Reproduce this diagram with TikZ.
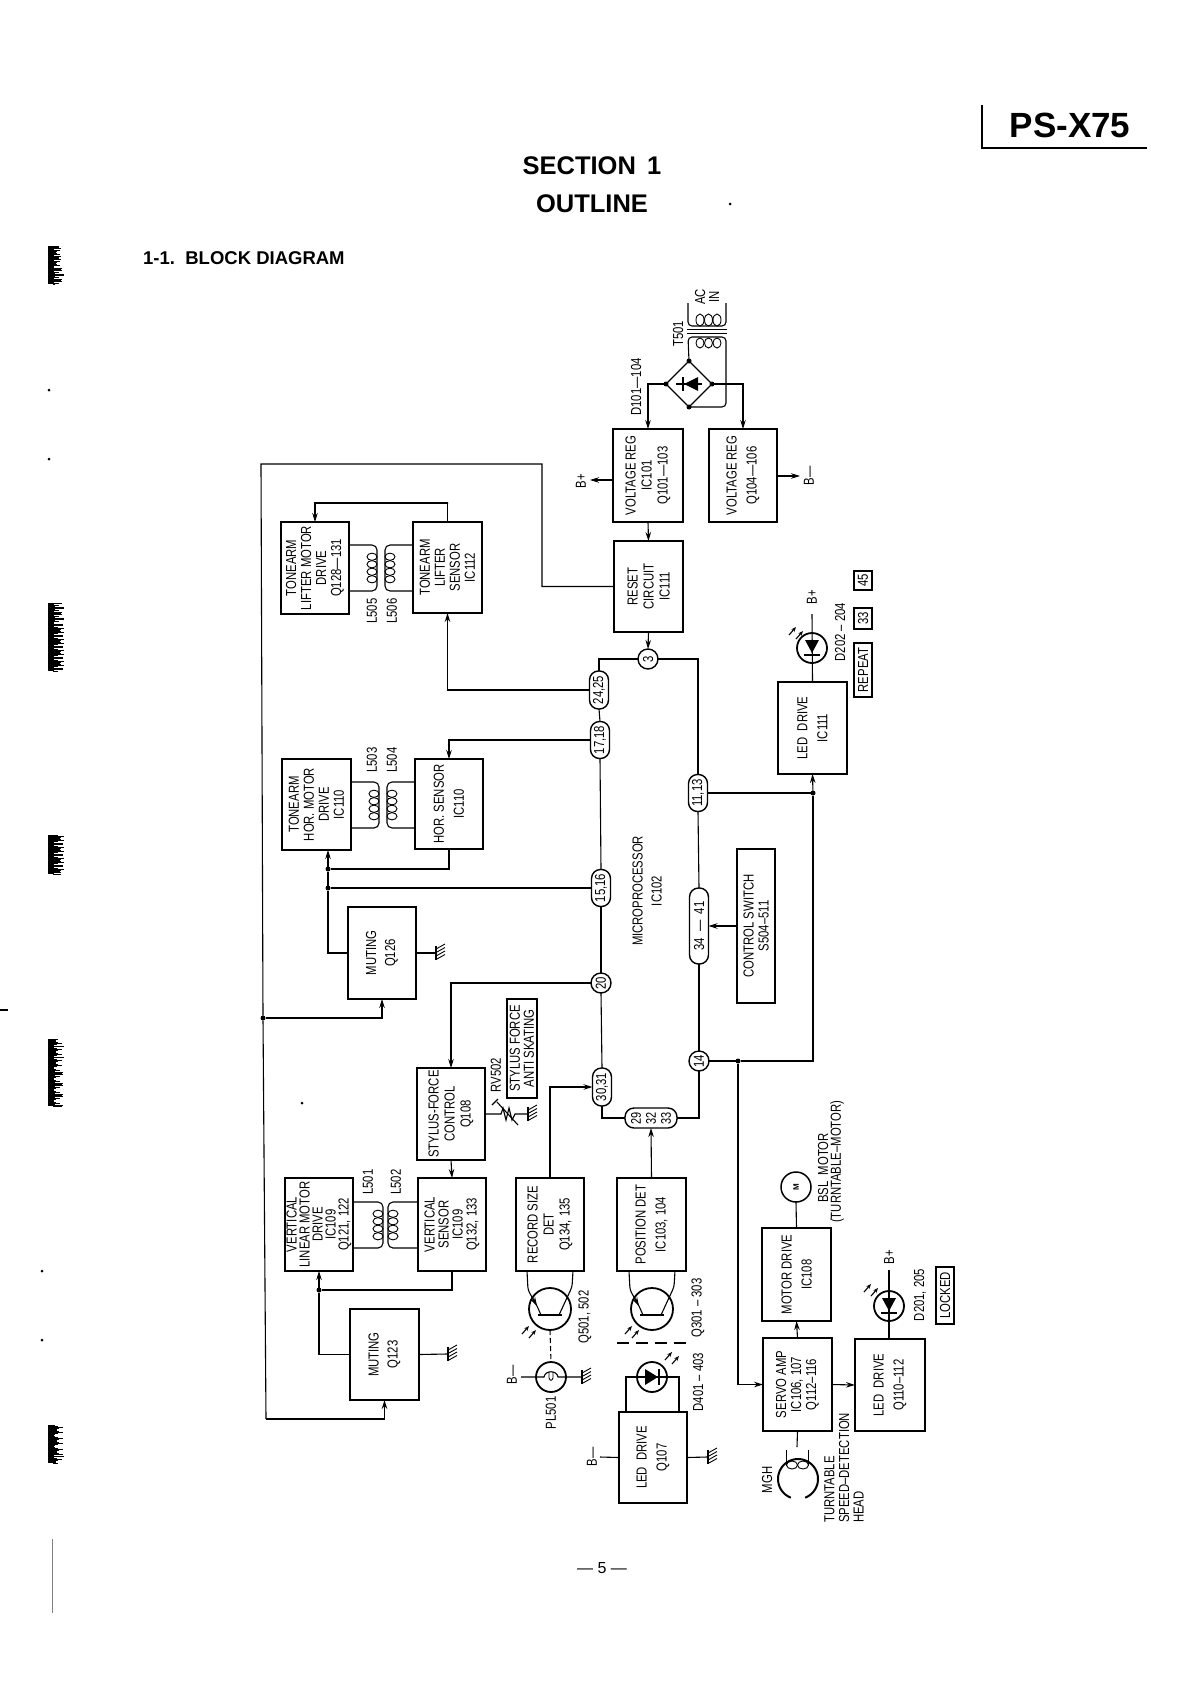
\documentclass[tikz,border=0pt]{standalone}
\usepackage{fontspec}
\usetikzlibrary{arrows.meta,shapes.geometric}
\setmainfont{Liberation Sans}
\newfontfamily\lab[FakeStretch=0.78]{Liberation Sans}
\newcommand{\blkn}[6][]{\node[box,minimum width={(#4-#2)*1pt},minimum height={(#5-#3)*1pt}] (#6) at ({(#2+#4)/2},{(#3+#5)/2}) {};}
\newcommand{\pillv}[4]{\node[pill,minimum height=#3*1pt] (#1) at #2 {};\node[pintxt] at (#1) {#4};}
\newcommand{\coilpair}[6]{%
 \draw[wire,rounded corners=5pt] (#1.east |- 0,#5) -- (#3,#5) -- (#3,#6) -- (#1.east |- 0,#6);
 \draw[wire,rounded corners=5pt] (#2.west |- 0,#5) -- (#4,#5) -- (#4,#6) -- (#2.west |- 0,#6);
 \foreach \k in {0,1,2,3}{
  \draw[thin wire] ({#3-5},{(#5+#6)/2-11.25+\k*7.5}) ellipse[x radius=5pt,y radius=3.6pt];
  \draw[thin wire] ({#4+5},{(#5+#6)/2-11.25+\k*7.5}) ellipse[x radius=5pt,y radius=3.6pt];
 }}
\newcommand{\gnd}[2]{%
 \draw[wire,line width=1.8pt] (#1,#2-7) -- (#1,#2+7);
 \foreach \k in {-5,-1.5,2,5.5}{\draw[thin wire] (#1,#2+\k+1) -- (#1+9,#2+\k-4);}}
\newcommand{\lightarr}[2]{%
 \draw[larr] (#1-6,#2+2) -- (#1+1,#2-6);
 \draw[larr] (#1+1,#2+6) -- (#1+8,#2-2);}
\newcommand{\smudge}[2]{%
 \fill[black] (48,#1) rectangle (54,#2);
 \foreach \y in {#1,...,#2}{\pgfmathsetmacro\ll{mod(mod(\y,97)*mod(\y,89),11)+1}\draw[black,line width=.7pt] (53,\y) -- ++(\ll,0);}}
\tikzset{
 box/.style={draw,line width=1.5pt,inner sep=0pt,outer sep=0pt,rectangle},
 pill/.style={draw,line width=1.4pt,inner sep=0pt,outer sep=0pt,rectangle,rounded corners=9pt,minimum width=19pt,fill=white},
 pin/.style={draw,line width=1.4pt,inner sep=0pt,outer sep=0pt,circle,minimum size=20pt,fill=white},
 wire/.style={line width=1.1pt},
 thin wire/.style={line width=.9pt},
 arr/.style={line width=1.1pt,-{Stealth[length=9pt,width=5.5pt]}},
 larr/.style={line width=1.1pt,-{Stealth[length=5pt,width=4pt]}},
 dotn/.style={circle,fill=black,inner sep=0pt,outer sep=0pt,minimum size=5pt},
 round sym/.style={draw,line width=1.8pt,circle,inner sep=0pt,outer sep=0pt,fill=white},
 lbl/.style={rotate=90,align=center,inner sep=0pt,font=\lab\fontsize{14.5}{#1}\selectfont},
 lbl/.default=16,
 pintxt/.style={rotate=90,inner sep=0pt,font=\lab\fontsize{14.5}{15}\selectfont},
 tag/.style={draw,line width=1.2pt,inner sep=0pt,outer sep=0pt},
}
\begin{document}
\begin{tikzpicture}[x=1pt,y=-1pt]
\useasboundingbox (0,0) rectangle (1191,1683);
% scan marks on the page edge
\smudge{246}{284}\smudge{603}{671}\smudge{835}{874}\smudge{1039}{1106}\smudge{1425}{1463}
\draw[line width=1.2pt] (0,1010) -- (8,1010);
\draw[gray,line width=1pt] (52,1539) -- (52,1613);
\foreach \a/\b in {49/390,49/459,42/1271,42/1340,302/1103,730/204}{\fill (\a,\b) circle[radius=1.5pt];}
% header
\node[inner sep=0pt,font=\bfseries\fontsize{25.5}{25}\selectfont] (h1) at (592,166) {SECTION\, 1};
\node[inner sep=0pt,font=\bfseries\fontsize{25.5}{25}\selectfont] (h2) at (592,204) {OUTLINE};
\node[inner sep=0pt,anchor=west,font=\bfseries\fontsize{18.5}{18}\selectfont] (h3) at (143,258) {1-1.\ \ BLOCK DIAGRAM};
\node[inner sep=0pt,font=\bfseries\fontsize{35}{34}\selectfont] (h4) at (1070,125) {PS-X75};
\draw[line width=1.3pt] (982,105) -- (982,148) -- (1147,148);
\node[inner sep=0pt,font=\fontsize{16}{16}\selectfont] (pg) at (602,1568) {— 5 —};
% blocks
\blkn{613}{429}{683}{522}{vr1}\node[lbl] at (vr1) {VOLTAGE REG\\IC101\\Q101—103};
\blkn{709}{429}{777}{522}{vr2}\node[lbl=20] at (vr2) {VOLTAGE REG\\Q104—106};
\blkn{614}{541}{683}{632}{reset}\node[lbl] at (reset) {RESET\\CIRCUIT\\IC111};
\blkn{778}{682}{847}{774}{ledd}\node[lbl=20] at (ledd) {LED\ \ DRIVE\\IC111};
\blkn{281}{522}{349}{614}{lm}\node[lbl=15] at (lm) {TONEARM\\LIFTER MOTOR\\DRIVE\\Q128—131};
\blkn{413}{522}{482}{613}{ls}\node[lbl=15] at (ls) {TONEARM\\LIFTER\\SENSOR\\IC112};
\blkn{282}{759}{351}{850}{hm}\node[lbl=15] at (hm) {TONEARM\\HOR. MOTOR\\DRIVE\\IC110};
\blkn{415}{759}{483}{849}{hs}\node[lbl=20] at (hs) {HOR. SENSOR\\IC110};
\blkn{348}{907}{416}{999}{mu1}\node[lbl=19] at (mu1) {MUTING\\Q126};
\blkn{417}{1068}{485}{1160}{sf}\node[lbl] at (sf) {STYLUS-FORCE\\CONTROL\\Q108};
\blkn{418}{1178}{486}{1271}{vs}\node[lbl=14] at (vs) {VERTICAL\\SENSOR\\IC109\\Q132, 133};
\blkn{285}{1178}{353}{1271}{vm}\node[lbl=13] at (vm) {VERTICAL\\LINEAR MOTOR\\DRIVE\\IC109\\Q121, 122};
\blkn{350}{1309}{419}{1400}{mu2}\node[lbl=19] at (mu2) {MUTING\\Q123};
\blkn{516}{1178}{584}{1271}{rs}\node[lbl] at (rs) {RECORD SIZE\\DET\\Q134, 135};
\blkn{617}{1178}{686}{1271}{pd}\node[lbl=20] at (pd) {POSITION DET\\IC103, 104};
\blkn{619}{1412}{687}{1503}{ld}\node[lbl=20] at (ld) {LED\ \ DRIVE\\Q107};
\blkn{762}{1228}{831}{1321}{md}\node[lbl=20] at (md) {MOTOR DRIVE\\IC108};
\blkn{763}{1338}{832}{1431}{sa}\node[lbl=15] at (sa) {SERVO AMP\\IC106, 107\\Q112–116};
\blkn{855}{1339}{925}{1431}{ldb}\node[lbl=20] at (ldb) {LED\ \ DRIVE\\Q110–112};
\blkn{737}{849}{775}{1003}{cs}\node[lbl=15] at (cs) {CONTROL SWITCH\\S504–511};
% pins of the microprocessor
\node[pin] (p3) at (648,659) {};\node[pintxt] at (p3) {3};
\pillv{p2425}{(599,690)}{38}{24,25}
\pillv{p1718}{(600,740)}{37}{17,18}
\pillv{p1516}{(601,888)}{37}{15,16}
\node[pin] (p20) at (601,983) {};\node[pintxt] at (p20) {20};
\pillv{p3031}{(602,1087)}{38}{30,31}
\node[pill,minimum width=52pt,minimum height=20pt] (p29) at (651,1118) {};
\node[rotate=90,inner sep=0pt,align=center,font=\lab\fontsize{14}{15}\selectfont] at (p29) {29\\32\\33};
\node[pin] (p14) at (699,1061) {};\node[pintxt] at (p14) {14};
\pillv{p3441}{(699,926)}{76}{34\ \ —\ \ 41}
\pillv{p1113}{(698,793)}{37}{11,13}
\node[lbl=19] (mp) at (647,891) {MICROPROCESSOR\\IC102};
% microprocessor bus
\draw[wire] (p3.west) -| (p2425.north);
\draw[wire] (p2425.south) -- (p1718.north);
\draw[wire] (p1718.south) -- (p1516.north);
\draw[wire] (p1516.south) -- (p20.north);
\draw[wire] (p20.south) -- (p3031.north);
\draw[wire] (p3031.south) |- (p29.west);
\draw[wire] (p29.east) -| (p14.south);
\draw[wire] (p14.north) -- (p3441.south);
\draw[wire] (p3441.north) -- (p1113.south);
\draw[wire] (p1113.north) |- (p3.east);
% power section
\node[draw,line width=1.2pt,diamond,aspect=1,minimum width=46pt,minimum height=46pt,inner sep=0pt,outer sep=0pt] (br) at (689,384) {};
\fill (684,384) -- (698,377) -- (698,391) -- cycle;
\draw[wire] (676,384) -- (702,384);
\draw[line width=1.6pt] (683,377) -- (683,391);
\foreach \n in {north,south,east,west}{\node[dotn] at (br.\n) {};}
\draw[wire,rounded corners=4pt] (688,303) -- (688,326) -- (726,326) -- (726,303);
\draw[wire,rounded corners=4pt] (br.north) -- (688,337) -- (726,337) -- (726,407) -- (br.south);
\foreach \a in {700,708.5,717}{
 \draw[thin wire] (\a,320) ellipse[x radius=4pt,y radius=6pt];
 \draw[thin wire] (\a,343) ellipse[x radius=4pt,y radius=5pt];}
\draw[thin wire] (687,329) -- (727,329);
\draw[thin wire] (687,333) -- (727,333);
\node[lbl=14] (acin) at (707,297) {AC\\IN};
\node[lbl] (t501) at (678,334) {T501};
\node[lbl] (d101) at (636,387) {D101—104};
\draw[arr] (br.west) -| (vr1.north);
\draw[arr] (br.east) -| (vr2.north);
\coordinate (bp) at (590,480);
\coordinate (bm) at (800,476);
\draw[arr] (vr1.west |- bp) -- (bp);
\draw[arr] (vr2.east |- bm) -- (bm);
\node[lbl] (bp1) at (581,481) {B+};
\node[lbl] (bm1) at (809,476) {B—};
\draw[arr] (vr1.south) -- (reset.north);
\draw[arr] (reset.south) -- (p3.north);
% long supply line
\coordinate (tk1) at (542,464);
\coordinate (tk2) at (261,464);
\node[dotn] (tj) at (263,1018) {};
\coordinate (tk3) at (266,1419);
\draw[wire] (reset.west) -| (tk1) -- (tk2) -- (tj) -- (tk3);
\draw[arr] (tk3) -| (mu2.south);
\draw[arr] (tj) -| (mu1.south);
% lifter
\coordinate (lt) at (448,503);
\draw[arr] (ls.north) |- (lt) -| (lm.north);
\draw[arr] (p2425.west) -| (ls.south);
\coilpair{lm}{ls}{377}{385}{545}{591}
\node[lbl] (l505) at (372,611) {L505};
\node[lbl] (l506) at (392,611) {L506};
% horizontal
\draw[arr] (p1718.west) -| (hs.north);
\coilpair{hm}{hs}{379}{387}{782}{828}
\node[lbl] (l503) at (372,760) {L503};
\node[lbl] (l504) at (392,760) {L504};
\node[dotn] (jh) at (328,869) {};
\node[dotn] (ji) at (328,888) {};
\draw[wire] (hs.south) |- (jh);
\draw[arr] (jh) -- (jh |- hm.south);
\draw[wire] (jh) -- (ji);
\draw[wire] (p1516.west) -- (ji);
\draw[wire] (ji) |- (mu1.west);
\draw[wire] (mu1.east) -- (435,953);
\gnd{436}{953}
% stylus force
\draw[arr] (p20.west) -| (sf.north);
\draw[arr] (sf.south) -- (vs.north);
\coordinate (rr) at (527,1114);
\draw[wire] (sf.east |- rr) -- (501,1114) -- (503,1108) -- (506,1120) -- (509,1108) -- (512,1120) -- (515,1114) -- (rr);
\draw[wire] (497,1102) -- (518,1125);
\draw[wire] (492,1105) -- (498,1099);
\gnd{528}{1114}
\node[lbl] (rv) at (496,1075) {RV502};
\node[tag,minimum width=30pt,minimum height=99pt] (ant) at (522,1048.5) {};
\node[lbl=14] at (ant) {STYLUS FORCE\\ANTI SKATING};
% vertical
\coilpair{vm}{vs}{383}{388}{1202}{1248}
\node[lbl] (l501) at (368,1182) {L501};
\node[lbl] (l502) at (396,1182) {L502};
\node[dotn] (jv) at (319,1290) {};
\draw[wire] (vs.south) |- (jv);
\draw[arr] (jv) -- (jv |- vm.south);
\draw[wire] (mu2.west) -| (jv);
\draw[wire] (mu2.east) -- (447,1354);
\gnd{448}{1354}
% detectors
\draw[arr] (rs.north) |- (p3031.west);
\draw[arr] (pd.north) -- (p29.south);
\node[round sym,minimum size=42pt] (q1) at (550,1309) {};
\node[round sym,minimum size=42pt] (q2) at (652,1309) {};
\foreach \c/\bx in {550/rs,652/pd}{
 \draw[line width=2.6pt] (\c-12,1315) -- (\c+12,1315);
 \draw[wire,rounded corners=3pt] (\c-23,1271) -- (\c-22,1290) -- (\c-13,1306);
 \draw[arr] (\c-18,1297) -- (\c-13,1306);
 \draw[wire] (\c-13,1306) -- (\c-9,1315);
 \draw[wire,rounded corners=3pt] (\c+23,1271) -- (\c+22,1287) -- (\c+9,1315);
}
\lightarr{528}{1332}
\lightarr{631}{1332}
\node[lbl] (q501) at (585,1317) {Q501, 502};
\node[lbl] (q301) at (698,1308) {Q301 – 303};
\node[round sym,minimum size=30pt] (pl) at (551,1377) {};
\draw[wire,dash pattern=on 5pt off 3pt] (q1.south) -- (pl.north);
\draw[line width=1.5pt,dash pattern=on 12pt off 7pt] (617,1343) -- (687,1343);
\coordinate (bl) at (521,1377);
\coordinate (gl) at (581,1377);
\draw[wire] (bl) -- (544,1377) .. controls (545,1370) and (557,1370) .. (558,1377) -- (gl);
\draw[thin wire] (549,1372) -- (549,1378) .. controls (550,1381) and (552,1381) .. (553,1378) -- (553,1372);
\gnd{582}{1377}
\node[lbl] (bl1) at (512,1375) {B—};
\node[lbl] (pl5) at (551,1413) {PL501};
\node[round sym,minimum size=30pt] (d4) at (652,1377) {};
\fill (645,1369) -- (658,1377) -- (645,1385) -- cycle;
\draw[line width=1.6pt] (659,1369) -- (659,1385);
\coordinate (d4a) at (626,1377);
\coordinate (d4b) at (679,1377);
\draw[wire] (ld.north -| d4a) -- (d4a) -- (d4b) -- (ld.north -| d4b);
\lightarr{671}{1358}
\node[lbl] (d401) at (698,1382) {D401 – 403};
\coordinate (ldb1) at (600,1457);
\coordinate (ldg) at (707,1457);
\draw[wire] (ld.west) -- (ldb1);
\draw[wire] (ld.east) -- (ldg);
\gnd{708}{1457}
\node[lbl] (bl2) at (592,1457) {B—};
% LED drive IC111
\node[round sym,minimum size=30pt] (d2) at (812,648) {};
\fill (805,640) -- (819,640) -- (812,653) -- cycle;
\draw[line width=1.6pt] (804,655) -- (820,655);
\coordinate (d2t) at (812,614);
\draw[wire] (ledd.north) -- (d2t);
\lightarr{795}{633}
\node[lbl] (bp2) at (812,597) {B+};
\node[lbl] (d202) at (840,632) {D202 – 204};
\node[tag,minimum width=18pt,minimum height=54pt] (trep) at (863,670) {};\node[pintxt] at (trep) {REPEAT};
\node[tag,minimum width=18pt,minimum height=21pt] (t33) at (863,618.5) {};\node[pintxt] at (t33) {33};
\node[tag,minimum width=18pt,minimum height=19pt] (t45) at (863,580.5) {};\node[pintxt] at (t45) {45};
\node[dotn] (jl) at (813,793) {};
\node[dotn] (j14) at (738,1061) {};
\draw[arr] (jl) -- (ledd.south);
\draw[wire] (p1113.east) -- (jl);
\coordinate (c14) at (813,1061);
\draw[wire] (p14.east) -- (j14) -- (c14) -- (jl);
\draw[arr] (cs.west |- p3441.east) -- (p3441.east);
\draw[arr] (j14) |- (sa.west);
% servo side
\draw[arr] (sa.north) -- (md.south);
\draw[arr] (sa.east) -- (ldb.west);
\node[round sym,minimum size=30pt,line width=1.5pt] (mot) at (796,1187) {};
\node[rotate=90,inner sep=0pt,font=\bfseries\fontsize{8}{8}\selectfont] at (mot) {M};
\draw[wire] (md.north) -- (mot.south);
\node[lbl,align=left,anchor=west] (bsl) at (823,1203) {BSL\ \ MOTOR};
\node[lbl,anchor=west] (tm) at (837,1223) {(TURNTABLE–MOTOR)};
\node[round sym,minimum size=30pt] (d3) at (889,1306) {};
\fill (882,1298) -- (896,1298) -- (889,1311) -- cycle;
\draw[line width=1.6pt] (881,1313) -- (897,1313);
\coordinate (d3t) at (889,1270);
\draw[wire] (ldb.north -| d3) -- (d3t);
\lightarr{870}{1290}
\node[lbl] (bp3) at (889,1257) {B+};
\node[lbl] (d201) at (920,1295) {D201, 205};
\node[tag,minimum width=18pt,minimum height=57pt] (tlk) at (945,1295.5) {};\node[pintxt] at (tlk) {LOCKED};
% head
\coordinate (hd) at (797,1447);
\draw[wire] (sa.south) -- (hd);
\draw[line width=2pt] plot[domain=111:429,samples=50,smooth] ({798+20*cos(\x)},{1479+20*sin(\x)});
\draw[thin wire] (786,1450) -- (786,1466);
\draw[thin wire] (808,1450) -- (808,1466);
\draw[thin wire] (792,1465) ellipse[x radius=5.5pt,y radius=4pt];
\draw[thin wire] (803,1465) ellipse[x radius=5.5pt,y radius=4pt];
\node[lbl] (mgh) at (767,1480) {MGH};
\node[lbl=14.5,align=left,anchor=west] (tsd) at (844,1523) {TURNTABLE\\SPEED–DETECTION\\HEAD};
\end{tikzpicture}
\end{document}
